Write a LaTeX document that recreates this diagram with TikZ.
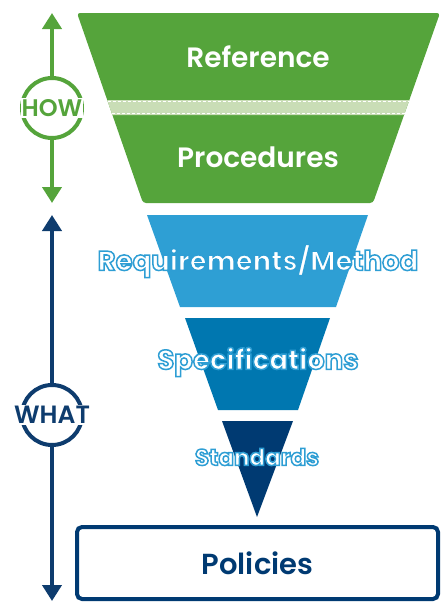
\documentclass[tikz,border=0pt]{standalone}
\usepackage{fontspec}
\setmainfont{Poppins}[BoldFont={* SemiBold}]
\newfontfamily\heavyfont{Poppins}[UprightFont={* Bold}]
\usetikzlibrary{arrows.meta}
\definecolor{howgreen}{HTML}{55A43B}
\definecolor{bandgreen}{HTML}{C9DDB6}
\definecolor{reqblue}{HTML}{2E9FD4}
\definecolor{specblue}{HTML}{0077B0}
\definecolor{stdnavy}{HTML}{003A72}
\definecolor{whatnavy}{HTML}{0E3C6E}
% white letters with a thin blue edge
\newcommand{\ringon}{\special{pdf:literal direct 2 Tr 1.5 w 0.18 0.62 0.83 RG}}
\newcommand{\ringoff}{\special{pdf:literal direct 0 Tr}}
\tikzset{
  bigtext/.style={font=\bfseries\fontsize{28}{28}\selectfont, inner sep=0pt},
  ringtext/.style={inner sep=0pt, text=white, font=\heavyfont\fontsize{27.5}{27.5}\selectfont},
  axis/.style={line width=4pt,
    arrows={Triangle[width=19pt,length=16pt]-Triangle[width=19pt,length=16pt]}},
  ring/.style={circle, line width=4pt, fill=white, minimum size=60pt},
}
\begin{document}
\begin{tikzpicture}[x=1pt, y=-1pt]
  \useasboundingbox (0,0) rectangle (443,605);
  % funnel
  \fill[howgreen, rounded corners=3pt] (77,13) -- (440,13) -- (373,203) -- (143,203) -- cycle;
  \fill[bandgreen] (107.2,100) -- (409.3,100) -- (404,115) -- (112.4,115) -- cycle;
  \draw[white, line width=1.2pt, dash pattern=on 3pt off 2pt] (107.5,101.5) -- (408.8,101.5);
  \draw[white, line width=1.2pt, dash pattern=on 3pt off 2pt] (111.9,113.5) -- (404.5,113.5);
  \fill[reqblue] (147,215) -- (368,215) -- (336,307) -- (180,307) -- cycle;
  \fill[specblue] (185,318) -- (330,318) -- (298,410) -- (218,410) -- cycle;
  \fill[stdnavy] (222,421) -- (293,421) -- (257,517) -- cycle;
  \node[bigtext, text=white] (reference) at (258,57) {Reference};
  \node[bigtext, text=white] (procedures) at (258,157) {Procedures};
  \node[ringtext] (requirements) at (258,261) {\ringon Requirements/Method\ringoff};
  \node[ringtext] (specifications) at (258,362) {\ringon Specifications\ringoff};
  \node[ringtext, font=\heavyfont\fontsize{23}{23}\selectfont] (standards) at (257,457) {\ringon Standards\ringoff};
  \node[bigtext, text=stdnavy, draw=stdnavy, line width=4pt, rounded corners=5pt,
        minimum width=361, minimum height=72, font=\bfseries\fontsize{29}{29}\selectfont]
        (policies) at (257.5,563) {Policies};
  % how / what
  \coordinate (howtop) at (52,13);
  \coordinate (howbot) at (52,203);
  \draw[axis, howgreen] (howtop) -- (howbot);
  \node[ring, draw=howgreen] (howring) at (52,108) {};
  \node[fill=white, inner sep=1pt, text=howgreen, font=\bfseries\fontsize{24}{24}\selectfont] (how) at (howring) {HOW};
  \coordinate (whattop) at (52,215);
  \coordinate (whatbot) at (52,601);
  \draw[axis, whatnavy] (whattop) -- (whatbot);
  \node[ring, draw=whatnavy] (whatring) at (52,415) {};
  \node[fill=white, inner sep=1pt, text=whatnavy, font=\bfseries\fontsize{25}{25}\selectfont] (what) at (whatring) {WHAT};
\end{tikzpicture}
\end{document}
